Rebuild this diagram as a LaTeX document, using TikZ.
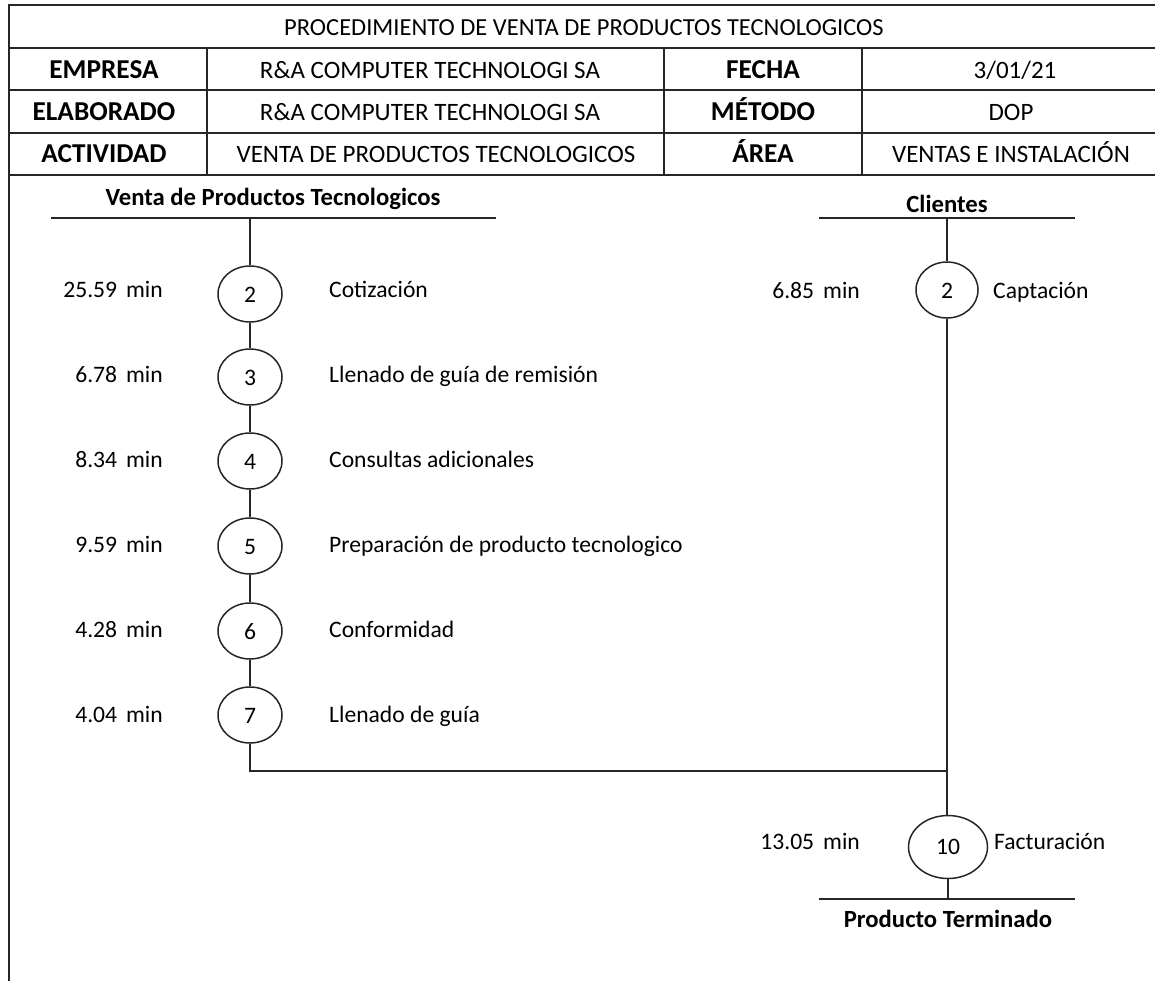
\documentclass[tikz,border=0pt]{standalone}
\usepackage{fontspec}
\setmainfont{Carlito}
\usetikzlibrary{shapes.geometric}
\begin{document}
\begin{tikzpicture}[x=1pt,y=-1pt,
  frame/.style={line width=1.8pt,draw=black!85},
  flow/.style={line width=1.5pt,draw=black!85},
  tcell/.style={font=\fontsize{25}{28}\selectfont,inner sep=0pt,anchor=base},
  thead/.style={font=\fontsize{27.3}{30}\selectfont\bfseries,inner sep=0pt,anchor=base},
  bhead/.style={font=\fontsize{24.7}{28}\selectfont\bfseries,inner sep=0pt,anchor=base},
  txt/.style={font=\fontsize{23.6}{27}\selectfont,inner sep=0pt},
  op/.style={ellipse,draw=black!85,line width=1.5pt,inner sep=0pt,
    text height=17pt,text depth=0pt,
    minimum width=64pt,minimum height=56pt,font=\fontsize{23.6}{27}\selectfont},
  tlabel/.style={txt,anchor=base east},
  dlabel/.style={txt,anchor=base west}]
\useasboundingbox (0,0) rectangle (1155,980);

% header table
\draw[frame] (9,985) -- (9,5) -- (1160,5);
\foreach \yy in {48,90,133,175} \draw[frame] (9,\yy) -- (1160,\yy);
\foreach \xx in {207,664,862} \draw[frame] (\xx,48) -- (\xx,175);

\node[tcell,font=\fontsize{24.5}{28}\selectfont] (title) at (584,35) {PROCEDIMIENTO DE VENTA DE PRODUCTOS TECNOLOGICOS};
\node[thead] (k1) at (104,78) {EMPRESA};
\node[tcell] (v1) at (430,78) {R\&A COMPUTER TECHNOLOGI SA};
\node[thead] (k2) at (763,78) {FECHA};
\node[tcell] (v2) at (1015,78) {3/01/21};
\node[thead] (k3) at (104,120) {ELABORADO};
\node[tcell] (v3) at (430,120) {R\&A COMPUTER TECHNOLOGI SA};
\node[thead] (k4) at (763,120) {MÉTODO};
\node[tcell] (v4) at (1011,120) {DOP};
\node[thead] (k5) at (104,162) {ACTIVIDAD};
\node[tcell] (v5) at (436,162) {VENTA DE PRODUCTOS TECNOLOGICOS};
\node[thead] (k6) at (763,162) {ÁREA};
\node[tcell] (v6) at (1011,162) {VENTAS E INSTALACIÓN};

% left line of operations
\node[bhead] (hdA) at (273,205) {Venta de Productos Tecnologicos};
\coordinate (hA1) at (51,218);
\coordinate (hA2) at (496,218);
\coordinate (tA) at (250,218);
\draw[flow] (hA1) -- (hA2);

\foreach \n/\yy/\bl/\t/\d in {2/294/297/25.59/Cotización,
                          3/377/382/6.78/Llenado de guía de remisión,
                          4/461/467/8.34/Consultas adicionales,
                          5/546/552/9.59/Preparación de producto tecnologico,
                          6/631/637/4.28/Conformidad,
                          7/715/722/4.04/Llenado de guía} {
  \node[op] (o\n) at (250,\yy) {\n};
  \node[tlabel] (t\n) at (163,\bl) {\t\hspace{0.38em}min};
  \node[dlabel] (d\n) at (329,\bl) {\d};
}
\draw[flow] (tA) -- (o2);
\foreach \a/\b in {2/3,3/4,4/5,5/6,6/7} \draw[flow] (o\a) -- (o\b);

% right line of operations
\node[bhead] (hdB) at (947,212) {Clientes};
\coordinate (hB1) at (819,218);
\coordinate (hB2) at (1075,218);
\coordinate (tB) at (947,218);
\draw[flow] (hB1) -- (hB2);
\node[op,minimum width=62pt] (c2) at (947,290) {2};
\node[tlabel] (tc) at (860,298) {6.85\hspace{0.38em}min};
\node[dlabel] (dc) at (993,298) {Captación};
\draw[flow] (tB) -- (c2);

% joining and final operation
\coordinate (jn) at (947,771);
\node[op,minimum width=79pt,minimum height=63pt,text height=15pt] (f10) at (948,847) {10};
\node[tlabel] (tf) at (860,849) {13.05\hspace{0.38em}min};
\node[dlabel] (df) at (994,849) {Facturación};
\draw[flow] (o7) |- (jn);
\draw[flow] (c2) -- (c2 |- f10.north);
\coordinate (hC1) at (819,899);
\coordinate (hC2) at (1075,899);
\coordinate (bC) at (948,899);
\draw[flow] (f10) -- (bC);
\draw[flow] (hC1) -- (hC2);
\node[bhead] (end) at (948,927) {Producto Terminado};
\end{tikzpicture}
\end{document}
